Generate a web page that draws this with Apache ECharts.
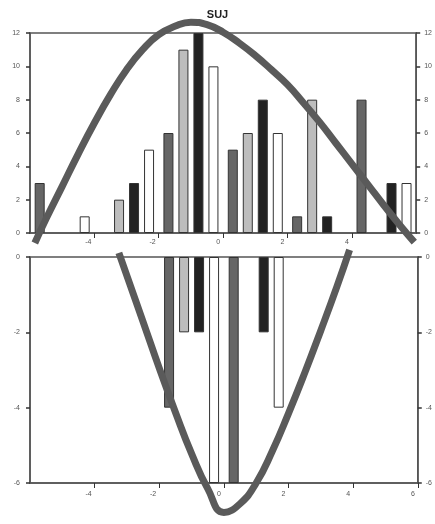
<!DOCTYPE html>
<html>
<head>
<meta charset="utf-8">
<script src="https://cdn.jsdelivr.net/npm/echarts@6/dist/echarts.min.js"></script>
<style>
html,body{margin:0;padding:0;background:#fff;}
#chart{width:435px;height:524px;}
</style>
</head>
<body>
<div id="chart"></div>
<script>
// ---- data ----
const titleText = 'SUJ';
const categories = ['-5', '-3', '-1', '1', '3', '5'];
const xTicks = [-6, -4, -2, 0, 2, 4, 6];
const topTicks = [0, 2, 4, 6, 8, 10, 12];
const bottomTicks = [-6, -4, -2, 0];

const topDarkGrey  = [3, null, 6, 5, 1, 8];
const topLightGrey = [null, 2, 11, 6, 8, null];
const topBlack     = [null, 3, 12, 8, 1, 3];
const topWhite     = [1, 5, 10, 6, null, 3];

const bottomDarkGrey  = [null, null, -4, -6, null, null];
const bottomLightGrey = [null, null, -2, null, null, null];
const bottomBlack     = [null, null, -2, -2, null, null];
const bottomWhite     = [null, null, -6, -4, null, null];

const topCurveX = [-5.85, -5.5, -5.0, -4.5, -4.0, -3.5, -3.0, -2.5, -2.0, -1.5, -1.0, -0.5, 0.0, 0.5, 1.0, 1.5, 2.0, 2.5, 3.0, 3.5, 4.0, 4.5, 5.0, 5.5, 5.94];
const topCurveY = [-0.6, 0.85, 2.8, 4.75, 6.6, 8.3, 9.8, 11.0, 11.9, 12.4, 12.65, 12.5, 12.05, 11.4, 10.65, 9.8, 8.9, 7.8, 6.65, 5.4, 4.15, 2.9, 1.65, 0.45, -0.55];
const bottomCurveX = [-3.25, -3.0, -2.5, -2.0, -1.5, -1.0, -0.5, 0.0, 0.5, 1.0, 1.5, 2.0, 2.5, 3.0, 3.5, 3.89];
const bottomCurveY = [0.11, -0.5, -1.72, -2.95, -4.12, -5.22, -6.15, -6.78, -6.55, -6.0, -5.15, -4.15, -3.08, -1.95, -0.78, 0.19];

// ---- styles ----
const axisColor = '#555';
const labelStyle = {color: '#555', fontSize: 7, fontFamily: 'Liberation Sans'};
const barColors = ['#666666', '#bdbdbd', '#222222', '#ffffff'];
const curveColor = '#5a5a5a';

function zip(xs, ys) { return xs.map((x, i) => [x, ys[i]]); }

function yAxisDef(grid, min, max, pos, margin) {
  return {
    gridIndex: grid, type: 'value', min: min, max: max, interval: 2, position: pos,
    axisLine: {show: true, onZero: false, lineStyle: {color: axisColor, width: 1.5}},
    axisTick: {show: true, length: 4, lineStyle: {color: '#333', width: 1.5}},
    axisLabel: Object.assign({margin: margin}, labelStyle),
    splitLine: {show: false}
  };
}

function barSeries(xi, yi, data, color) {
  return {
    type: 'bar', xAxisIndex: xi, yAxisIndex: yi, data: data,
    barWidth: 10, barGap: '50%',
    itemStyle: {color: color, borderColor: '#333', borderWidth: 1},
    z: 2
  };
}

const chart = echarts.init(document.getElementById('chart'), null, {renderer: 'canvas'});
chart.setOption({
  animation: false,
  backgroundColor: '#fff',
  title: {
    text: titleText, left: 'center', top: 4,
    textStyle: {fontSize: 11, fontWeight: 'bold', color: '#222', fontFamily: 'Liberation Sans'}
  },
  grid: [
    {left: 30, right: 13, top: 33, height: 200, show: true, borderColor: axisColor, borderWidth: 1.5},
    {left: 30, right: 13, top: 257, height: 226, show: true, borderColor: axisColor, borderWidth: 1.5}
  ],
  xAxis: [
    {gridIndex: 0, type: 'category', data: categories, show: false},
    {gridIndex: 0, type: 'value', min: -6, max: 6, interval: 2, position: 'bottom',
     axisLine: {show: true, onZero: false, lineStyle: {color: axisColor, width: 1.5}},
     axisTick: {show: true, length: 5, lineStyle: {color: '#333'}},
     axisLabel: Object.assign({showMinLabel: false, showMaxLabel: false, margin: 6, align: 'right', padding: [0, 3, 0, 0]}, labelStyle),
     splitLine: {show: false}},
    {gridIndex: 1, type: 'category', data: categories, show: false},
    {gridIndex: 1, type: 'value', min: -6, max: 6, interval: 2, position: 'bottom',
     axisLine: {show: true, onZero: false, lineStyle: {color: axisColor, width: 1.5}},
     axisTick: {show: true, length: 5, lineStyle: {color: '#333'}},
     axisLabel: Object.assign({showMinLabel: false, margin: 8, align: 'right', padding: [0, 3, 0, 0]}, labelStyle),
     splitLine: {show: false}}
  ],
  yAxis: [
    yAxisDef(0, 0, 12, 'left', 10),
    yAxisDef(0, 0, 12, 'right', 8),
    yAxisDef(1, -6, 0, 'left', 10),
    yAxisDef(1, -6, 0, 'right', 8)
  ],
  series: [
    barSeries(0, 0, topDarkGrey, barColors[0]),
    barSeries(0, 0, topLightGrey, barColors[1]),
    barSeries(0, 0, topBlack, barColors[2]),
    barSeries(0, 0, topWhite, barColors[3]),
    barSeries(2, 2, bottomDarkGrey, barColors[0]),
    barSeries(2, 2, bottomLightGrey, barColors[1]),
    barSeries(2, 2, bottomBlack, barColors[2]),
    barSeries(2, 2, bottomWhite, barColors[3]),
    {type: 'line', xAxisIndex: 1, yAxisIndex: 0, data: zip(topCurveX, topCurveY),
     smooth: 0.5, symbol: 'none', clip: false, z: 5,
     lineStyle: {color: curveColor, width: 7}},
    {type: 'line', xAxisIndex: 3, yAxisIndex: 2, data: zip(bottomCurveX, bottomCurveY),
     smooth: 0.5, symbol: 'none', clip: false, z: 5,
     lineStyle: {color: curveColor, width: 7}}
  ]
});
</script>
</body>
</html>
